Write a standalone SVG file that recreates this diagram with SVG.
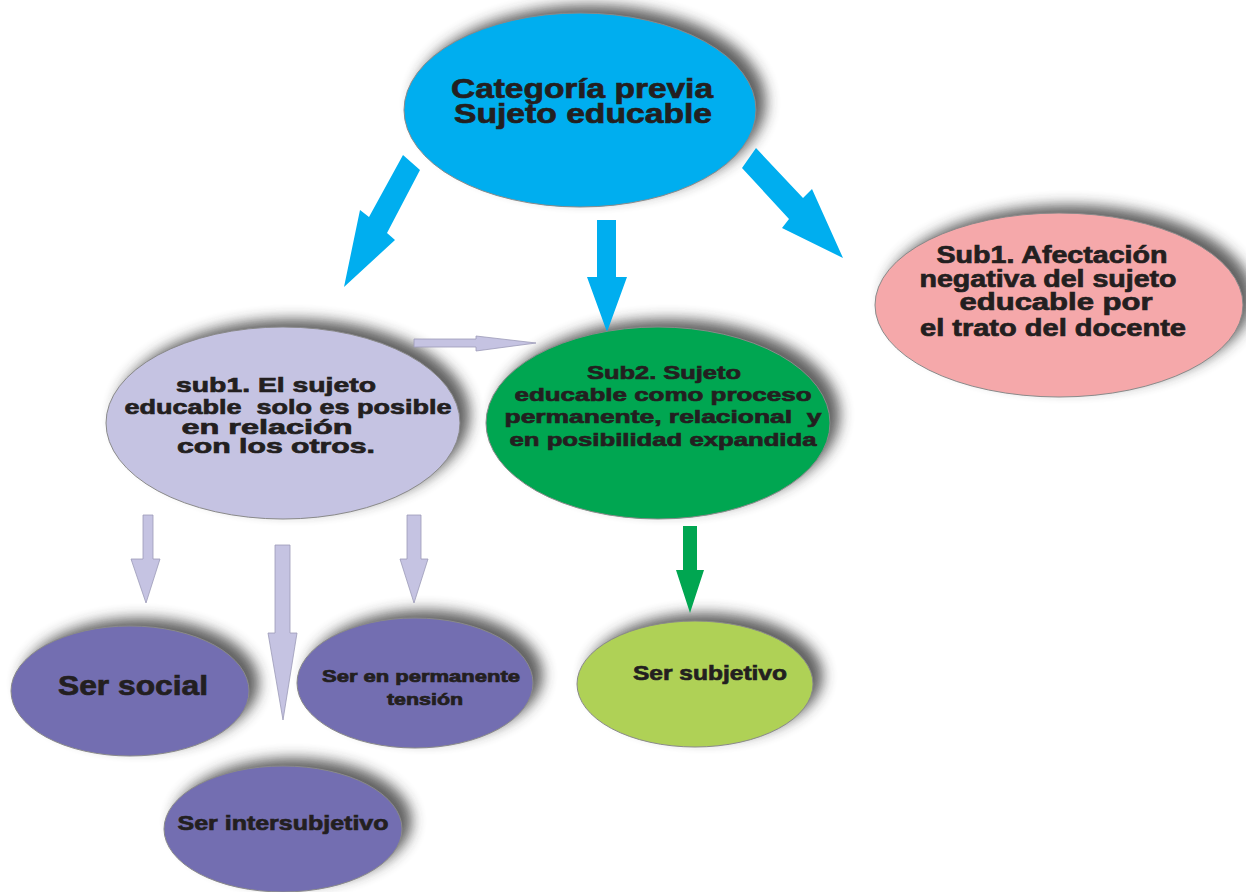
<svg xmlns="http://www.w3.org/2000/svg" width="1246" height="892" viewBox="0 0 1246 892">
  <defs>
    <filter id="soft" x="-30%" y="-30%" width="160%" height="160%">
      <feGaussianBlur stdDeviation="7"/>
    </filter>
    <style>
      .shadow { fill: #333333; opacity: 0.78; filter: url(#soft); }
      .node { stroke: #8a8a8a; stroke-width: 1; }
      .label { font-family: "Liberation Sans", Arial, sans-serif; font-weight: bold; fill: #231f20; stroke: #231f20; stroke-width: 0.7; text-anchor: middle; white-space: pre; }
      .blue { fill: #00aeef; }
      .lav { fill: #c5c3e2; stroke: #9c9ab8; stroke-width: 0.8; }
      .grn { fill: #00a651; }
    </style>
  </defs>

  <rect width="1246" height="892" fill="#ffffff"/>

  <!-- soft drop shadows, cast up and to the right -->
  <g id="shadows">
    <ellipse class="shadow" cx="590" cy="102" rx="176" ry="97"/>
    <ellipse class="shadow" cx="1069" cy="297" rx="184" ry="92"/>
    <ellipse class="shadow" cx="293" cy="415" rx="177" ry="96"/>
    <ellipse class="shadow" cx="668" cy="415" rx="172" ry="96"/>
    <ellipse class="shadow" cx="140" cy="683" rx="119" ry="65"/>
    <ellipse class="shadow" cx="293" cy="821" rx="119" ry="63"/>
    <ellipse class="shadow" cx="425" cy="675" rx="118" ry="65"/>
    <ellipse class="shadow" cx="705" cy="676" rx="118" ry="63"/>
  </g>

  <!-- block arrows -->
  <g id="connectors">
    <polygon class="blue" points="403,155 369,217 360,210 344,287 395,240 387,233 420,170"/>
    <polygon class="blue" points="597,220 616,220 616,277 627,277 607,332 587,277 597,277"/>
    <polygon class="blue" points="756,148 803,198 812,189 843,258 782,228 789,219 742,168"/>
    <polygon class="lav" points="414,339 476,339 476,336 536,343 476,351 476,347 414,347"/>
    <polygon class="lav" points="143,515 153,515 153,559 160,559 146,603 131,559 143,559"/>
    <polygon class="lav" points="275,545 290,545 290,633 297,633 283,720 268,633 275,633"/>
    <polygon class="lav" points="407,515 421,515 421,559 428,559 414,603 400,559 407,559"/>
    <polygon class="grn" points="683,526 697,526 697,570 704,570 690,613 676,570 683,570"/>
  </g>

  <g id="categoria">
    <ellipse class="node" cx="580" cy="110" rx="176" ry="97" fill="#00aeef"/>
    <text class="label" font-size="28" x="582" y="98" textLength="262" lengthAdjust="spacingAndGlyphs">Categoría previa</text>
    <text class="label" font-size="28" x="583" y="123" textLength="258" lengthAdjust="spacingAndGlyphs">Sujeto educable</text>
  </g>

  <g id="afectacion">
    <ellipse class="node" cx="1059" cy="305" rx="184" ry="92" fill="#f5a8aa"/>
    <text class="label" font-size="23" x="1052" y="263" textLength="231" lengthAdjust="spacingAndGlyphs">Sub1. Afectación</text>
    <text class="label" font-size="23" x="1048" y="287" textLength="257" lengthAdjust="spacingAndGlyphs">negativa del sujeto</text>
    <text class="label" font-size="23" x="1056" y="310" textLength="193" lengthAdjust="spacingAndGlyphs">educable por</text>
    <text class="label" font-size="23" x="1053" y="336" textLength="266" lengthAdjust="spacingAndGlyphs">el trato del docente</text>
  </g>

  <g id="relacion">
    <ellipse class="node" cx="283" cy="423" rx="177" ry="96" fill="#c5c3e2"/>
    <text class="label" font-size="21" x="276" y="392" textLength="200" lengthAdjust="spacingAndGlyphs">sub1. El sujeto</text>
    <text class="label" font-size="21" x="288" y="414" textLength="327" lengthAdjust="spacingAndGlyphs">educable  solo es posible</text>
    <text class="label" font-size="21" x="267" y="434" textLength="171" lengthAdjust="spacingAndGlyphs">en relación</text>
    <text class="label" font-size="21" x="276" y="453" textLength="198" lengthAdjust="spacingAndGlyphs">con los otros.</text>
  </g>

  <g id="proceso">
    <ellipse class="node" cx="658" cy="423" rx="172" ry="96" fill="#00a651"/>
    <text class="label" font-size="19" x="664" y="379" textLength="154" lengthAdjust="spacingAndGlyphs">Sub2. Sujeto</text>
    <text class="label" font-size="19" x="663" y="401" textLength="297" lengthAdjust="spacingAndGlyphs">educable como proceso</text>
    <text class="label" font-size="19" x="663" y="423" textLength="317" lengthAdjust="spacingAndGlyphs">permanente, relacional  y</text>
    <text class="label" font-size="19" x="663" y="446" textLength="307" lengthAdjust="spacingAndGlyphs">en posibilidad expandida</text>
  </g>

  <g id="social">
    <ellipse class="node" cx="130" cy="691" rx="119" ry="65" fill="#736eb1"/>
    <text class="label" font-size="28" x="133" y="695" textLength="150" lengthAdjust="spacingAndGlyphs">Ser social</text>
  </g>

  <g id="intersubjetivo">
    <ellipse class="node" cx="283" cy="829" rx="119" ry="63" fill="#736eb1"/>
    <text class="label" font-size="21" x="283" y="830" textLength="211" lengthAdjust="spacingAndGlyphs">Ser intersubjetivo</text>
  </g>

  <g id="tension">
    <ellipse class="node" cx="415" cy="683" rx="118" ry="65" fill="#736eb1"/>
    <text class="label" font-size="16" x="421" y="682" textLength="198" lengthAdjust="spacingAndGlyphs">Ser en permanente</text>
    <text class="label" font-size="16" x="425" y="705" textLength="76" lengthAdjust="spacingAndGlyphs">tensión</text>
  </g>

  <g id="subjetivo">
    <ellipse class="node" cx="695" cy="684" rx="118" ry="63" fill="#afd156"/>
    <text class="label" font-size="21" x="710" y="680" textLength="154" lengthAdjust="spacingAndGlyphs">Ser subjetivo</text>
  </g>
</svg>
